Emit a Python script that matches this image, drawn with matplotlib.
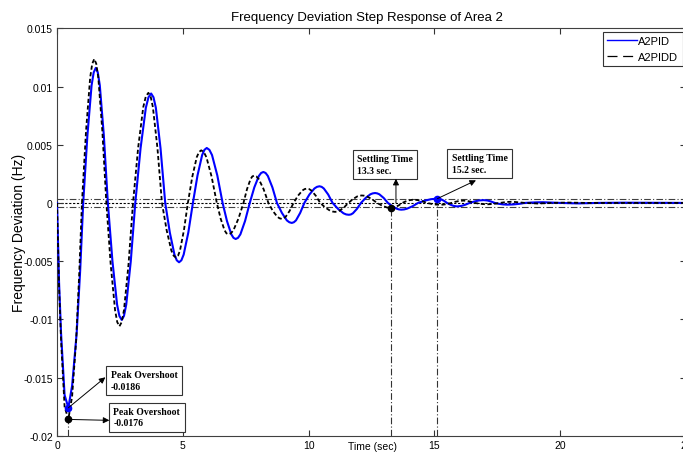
import matplotlib
matplotlib.use('Agg')
import matplotlib.pyplot as plt
from matplotlib.lines import Line2D

plt.rcParams['font.family'] = ['Liberation Sans', 'DejaVu Sans']

title = 'Frequency Deviation Step Response of Area 2'
xlabel = 'Time (sec)'
ylabel = 'Frequency Deviation (Hz)'
series_labels = ['A2PID', 'A2PIDD']

# A2PID (blue, solid)
pid_t = [0, 0.08, 0.16, 0.30, 0.45, 0.60, 0.78, 0.92, 1.04,
         1.207, 1.373, 1.457, 1.54, 1.62, 1.70, 1.86, 2.02,
         2.203, 2.387, 2.478, 2.57, 2.66, 2.75, 2.93, 3.11,
         3.32, 3.53, 3.635, 3.74, 3.833, 3.927, 4.113, 4.30,
         4.483, 4.667, 4.758, 4.85, 4.942, 5.033, 5.217, 5.40,
         5.583, 5.767, 5.858, 5.95, 6.055, 6.16, 6.37, 6.58,
         6.753, 6.927, 7.013, 7.10, 7.193, 7.287, 7.473, 7.66,
         7.84, 8.02, 8.11, 8.20, 8.29, 8.38, 8.56, 8.74,
         8.937, 9.133, 9.232, 9.33, 9.413, 9.497, 9.663, 9.83,
         10.03, 10.23, 10.33, 10.43, 10.517, 10.603, 10.777, 10.95,
         11.167, 11.383, 11.492, 11.60, 11.68, 11.76, 11.92, 12.08,
         12.267, 12.453, 12.547, 12.64, 12.725, 12.81, 12.98, 13.15,
         13.327, 13.503, 13.592, 13.68, 13.792, 13.903, 14.127, 14.35,
         14.607, 14.863, 15.12, 15.247, 15.373, 15.50,
         15.633, 15.767, 15.90, 16.067, 16.233, 16.40,
         16.583, 16.767, 16.95, 17.10, 17.25, 17.40,
         17.567, 17.733, 17.90, 18.133, 18.367, 18.60,
         18.833, 19.067, 19.30, 20.0, 20.7, 21.5, 22.5, 25.0]
pid_v = [0, -0.0068, -0.0112, -0.0165, -0.0176, -0.0157, -0.0112, -0.0058, 0,
         0.0058, 0.0101, 0.01121, 0.0116, 0.01121, 0.0101, 0.0058, 0,
         -0.00503, -0.00874, -0.00971, -0.01005, -0.00971, -0.00874, -0.00503, 0,
         0.0047, 0.00818, 0.00908, 0.0094, 0.00908, 0.00818, 0.0047, 0,
         -0.00255, -0.00444, -0.00493, -0.0051, -0.00493, -0.00444, -0.00255, 0,
         0.00236, 0.00411, 0.00456, 0.00472, 0.00456, 0.00411, 0.00236, 0,
         -0.00155, -0.0027, -0.003, -0.0031, -0.003, -0.0027, -0.00155, 0,
         0.00133, 0.00231, 0.00257, 0.00266, 0.00257, 0.00231, 0.00133, 0,
         -0.00086, -0.0015, -0.00166, -0.00172, -0.00166, -0.0015, -0.00086, 0,
         0.00072, 0.00124, 0.00138, 0.00143, 0.00138, 0.00124, 0.00072, 0,
         -0.00051, -0.00089, -0.00099, -0.00102, -0.00099, -0.00089, -0.00051, 0,
         0.00043, 0.00074, 0.00082, 0.00085, 0.00082, 0.00074, 0.00043, 0,
         -0.00029, -0.0005, -0.00056, -0.00058, -0.00056, -0.0005, -0.00029, 0,
         0.00019, 0.00032, 0.00037, 0.00032, 0.00019, 0,
         -0.00015, -0.00026, -0.0003, -0.00026, -0.00015, 0,
         0.00012, 0.00021, 0.00024, 0.00021, 0.00012, 0,
         -0.00008, -0.00013, -0.00015, -0.00013, -0.00008, 0,
         0.00003, 0.00005, 0.00006, 0, -0.00004, 0, 0.00002, 0]

# A2PIDD (black, dashed)
pidd_t = [0, 0.08, 0.16, 0.30, 0.45, 0.60, 0.76, 0.88, 0.99,
          1.153, 1.317, 1.398, 1.48, 1.56, 1.64, 1.80, 1.96,
          2.133, 2.307, 2.393, 2.48, 2.57, 2.66, 2.84, 3.02,
          3.223, 3.427, 3.528, 3.63, 3.72, 3.81, 3.99, 4.17,
          4.357, 4.543, 4.637, 4.73, 4.808, 4.887, 5.043, 5.20,
          5.377, 5.553, 5.642, 5.73, 5.833, 5.937, 6.143, 6.35,
          6.503, 6.657, 6.733, 6.81, 6.91, 7.01, 7.21, 7.41,
          7.55, 7.69, 7.76, 7.83, 7.925, 8.02, 8.21, 8.40,
          8.577, 8.753, 8.842, 8.93, 9.008, 9.087, 9.243, 9.40,
          9.577, 9.753, 9.842, 9.93, 10.018, 10.107, 10.283, 10.46,
          10.657, 10.853, 10.952, 11.05, 11.138, 11.227, 11.403, 11.58,
          11.757, 11.933, 12.022, 12.11, 12.212, 12.313, 12.517, 12.72,
          12.907, 13.093, 13.187, 13.28, 13.353, 13.427, 13.573, 13.72,
          13.87, 14.02, 14.17, 14.347, 14.523, 14.70,
          14.873, 15.047, 15.22, 15.373, 15.527, 15.68,
          15.837, 15.993, 16.15, 16.30, 16.45, 16.60,
          16.767, 16.933, 17.10, 17.267, 17.433, 17.60,
          17.767, 17.933, 18.10, 18.6, 19.1, 19.7, 20.3, 21.0, 25.0]
pidd_v = [0, -0.0072, -0.0118, -0.0175, -0.0186, -0.0166, -0.0118, -0.0062, 0,
          0.0062, 0.01077, 0.01195, 0.01237, 0.01195, 0.01077, 0.0062, 0,
          -0.0053, -0.00922, -0.01024, -0.0106, -0.01024, -0.00922, -0.0053, 0,
          0.00473, 0.00823, 0.00914, 0.00946, 0.00914, 0.00823, 0.00473, 0,
          -0.00235, -0.00409, -0.00454, -0.0047, -0.00454, -0.00409, -0.00235, 0,
          0.00226, 0.00393, 0.00437, 0.00452, 0.00437, 0.00393, 0.00226, 0,
          -0.00135, -0.00235, -0.00261, -0.0027, -0.00261, -0.00235, -0.00135, 0,
          0.00118, 0.00204, 0.00227, 0.00235, 0.00227, 0.00204, 0.00118, 0,
          -0.00069, -0.00119, -0.00132, -0.00137, -0.00132, -0.00119, -0.00069, 0,
          0.00062, 0.00107, 0.00119, 0.00123, 0.00119, 0.00107, 0.00062, 0,
          -0.00039, -0.00067, -0.00074, -0.00077, -0.00074, -0.00067, -0.00039, 0,
          0.00032, 0.00056, 0.00062, 0.00064, 0.00062, 0.00056, 0.00032, 0,
          -0.00022, -0.00038, -0.00043, -0.00044, -0.00043, -0.00038, -0.00022, 0,
          0.00014, 0.00024, 0.00028, 0.00024, 0.00014, 0,
          -0.00008, -0.00014, -0.00016, -0.00014, -0.00008, 0,
          0.0001, 0.00017, 0.0002, 0.00017, 0.0001, 0,
          -0.00006, -0.0001, -0.00012, -0.0001, -0.00006, 0,
          0.00005, 0.00009, 0.0001, 0, -0.00005, 0, 0.00003, 0, 0]

band = 0.00036
peak_t = 0.45
peak_pid = -0.0176
peak_pidd = -0.0186
settle_pidd = (13.28, -0.00044)
settle_pid = (15.12, 0.00037)

xticks = [0, 5, 10, 15, 20, 25]
yticks = [-0.02, -0.015, -0.01, -0.005, 0, 0.005, 0.01, 0.015]
ytick_labels = ['-0.02', '-0.015', '-0.01', '-0.005', '0', '0.005', '0.01', '0.015']

note_settle_pidd = 'Settling Time\n13.3 sec.'
note_settle_pid = 'Settling Time\n15.2 sec.'
note_peak_pid = 'Peak Overshoot\n-0.0186'
note_peak_pidd = 'Peak Overshoot\n-0.0176'

fig = plt.figure(figsize=(6.83, 4.56), dpi=100)
ax = fig.add_axes([0.0835, 0.0423, 0.921, 0.8934])

ax.set_xlim(0, 25)
ax.set_ylim(-0.02, 0.015)

# reference band lines
dashdot = (0, (6, 2, 1, 2))
ax.axhline(band, color='0.25', lw=0.8, ls=dashdot, zorder=1)
ax.axhline(-band, color='0.25', lw=0.8, ls=dashdot, zorder=1)
ax.axhline(0, color='black', lw=0.8, ls=(0, (2, 1.5)), zorder=1)

# vertical markers
ax.plot([peak_t, peak_t], [-0.02, peak_pidd], color='0.2', lw=0.8, ls=dashdot, zorder=1)
ax.plot([settle_pidd[0]] * 2, [-0.02, settle_pidd[1]], color='0.2', lw=0.8, ls=dashdot, zorder=1)
ax.plot([settle_pid[0]] * 2, [-0.02, settle_pid[1]], color='0.2', lw=0.8, ls=dashdot, zorder=1)

ax.plot(pid_t, pid_v, color='#0000ff', lw=1.5, zorder=3, solid_joinstyle='round')
ax.plot(pidd_t, pidd_v, color='black', lw=1.3, dashes=(2.3, 1.4), zorder=4)

ax.plot([peak_t], [peak_pid], 'o', color='#0000ff', ms=4.5, zorder=6)
ax.plot([peak_t], [peak_pidd], 'o', color='black', ms=4.5, zorder=6)
ax.plot([settle_pidd[0]], [settle_pidd[1]], 'o', color='black', ms=4.5, zorder=6)
ax.plot([settle_pid[0]], [settle_pid[1]], 'o', color='#0000ff', ms=4.5, zorder=6)


def note(x, y, s):
    ax.text(x, y, s, ha='left', va='bottom', fontsize=7, fontweight='bold',
            family=['Liberation Serif', 'DejaVu Serif'], linespacing=1.35,
            bbox=dict(boxstyle='square,pad=0.45', fc='white', ec='0.2', lw=0.8),
            zorder=7)


def arrow(tail, head):
    ax.annotate('', xy=head, xytext=tail,
                arrowprops=dict(arrowstyle='-|>', color='black', lw=0.7,
                                mutation_scale=9, shrinkA=0, shrinkB=0),
                zorder=8)


note(11.93, 0.00243, note_settle_pidd)
note(15.69, 0.00249, note_settle_pid)
note(2.135, -0.01613, note_peak_pid)
note(2.24, -0.01928, note_peak_pidd)

arrow((13.47, 0.0), (13.47, 0.00207))
arrow(settle_pid, (16.65, 0.00194))
arrow((peak_t, peak_pid), (1.92, -0.01498))
arrow((peak_t, peak_pidd), (2.08, -0.01868))

ax.set_xticks(xticks)
ax.set_xticklabels([str(v) for v in xticks])
ax.set_yticks(yticks)
ax.set_yticklabels(ytick_labels)
ax.tick_params(direction='in', length=4, width=0.8, top=True, right=True,
               labelsize=7.5, pad=3, colors='0.2', labelcolor='black')
for sp in ax.spines.values():
    sp.set_color('0.25')
    sp.set_linewidth(0.8)

t = ax.set_title(title, fontsize=9.5, pad=6)
t.set_x(0.493)
ax.set_xlabel(xlabel, fontsize=7.5)
ax.xaxis.set_label_coords(0.502, -0.012)
ax.set_ylabel(ylabel, fontsize=10)
ax.yaxis.set_label_coords(-0.061, 0.5)
ax.yaxis.label.set_verticalalignment('center')

handles = [Line2D([], [], color='#0000ff', lw=1.0),
           Line2D([], [], color='black', lw=0.9, dashes=(8, 4.5))]
leg = ax.legend(handles, series_labels, loc='upper right', fontsize=8,
                borderaxespad=0.3, handlelength=2.7, handletextpad=0.1,
                borderpad=0.4, labelspacing=0.5, fancybox=False,
                edgecolor='0.2', framealpha=1)
leg.get_frame().set_linewidth(0.8)
leg.set_zorder(9)

fig.savefig('out.png', dpi=100)
